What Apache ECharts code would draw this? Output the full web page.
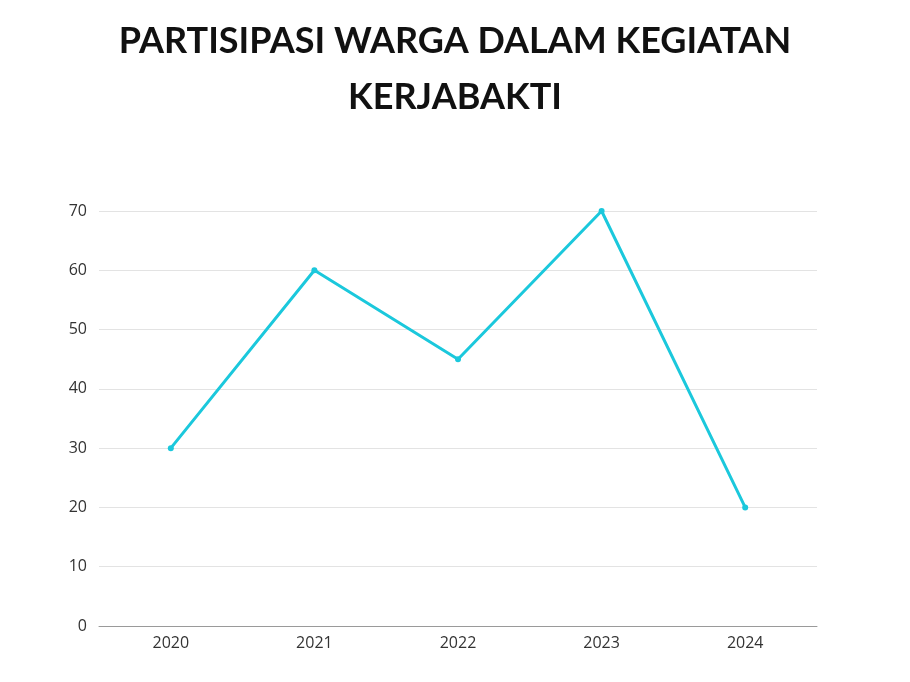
<!DOCTYPE html>
<html>
<head>
<meta charset="utf-8">
<script src="https://cdn.jsdelivr.net/npm/echarts@6/dist/echarts.min.js"></script>
<style>html,body{margin:0;padding:0;background:#fff}#c{width:910px;height:682px}</style>
</head>
<body>
<div id="c"></div>
<script>
var titleLines = ['PARTISIPASI WARGA DALAM KEGIATAN', 'KERJABAKTI'];
var categories = ['2020', '2021', '2022', '2023', '2024'];
var values = [30, 60, 45, 70, 20];
var yTicks = {min: 0, max: 70, interval: 10};

var chart = echarts.init(document.getElementById('c'));
chart.setOption({
  backgroundColor: '#ffffff',
  title: {
    text: titleLines.join('\n'),
    left: 'center',
    top: 8,
    textStyle: {
      fontFamily: 'Lato',
      fontWeight: 'bold',
      fontSize: 36,
      lineHeight: 56,
      color: '#111111'
    }
  },
  grid: {left: 99, right: 93, top: 211, bottom: 56},
  xAxis: {
    type: 'category',
    data: categories,
    boundaryGap: true,
    axisLine: {lineStyle: {color: '#9a9a9a', width: 1}},
    axisTick: {show: false},
    axisLabel: {color: '#333333', fontFamily: 'Open Sans', fontSize: 16, margin: 9}
  },
  yAxis: {
    type: 'value',
    min: yTicks.min, max: yTicks.max, interval: yTicks.interval,
    axisLine: {show: false},
    axisTick: {show: false},
    axisLabel: {color: '#333333', fontFamily: 'Open Sans', fontSize: 16, margin: 12},
    splitLine: {lineStyle: {color: '#e3e3e3', width: 1}}
  },
  series: [{
    type: 'line',
    data: values,
    lineStyle: {color: '#1bc8dc', width: 3},
    itemStyle: {color: '#1bc8dc'},
    symbol: 'circle',
    symbolSize: 6,
    animation: false
  }]
});
</script>
</body>
</html>
